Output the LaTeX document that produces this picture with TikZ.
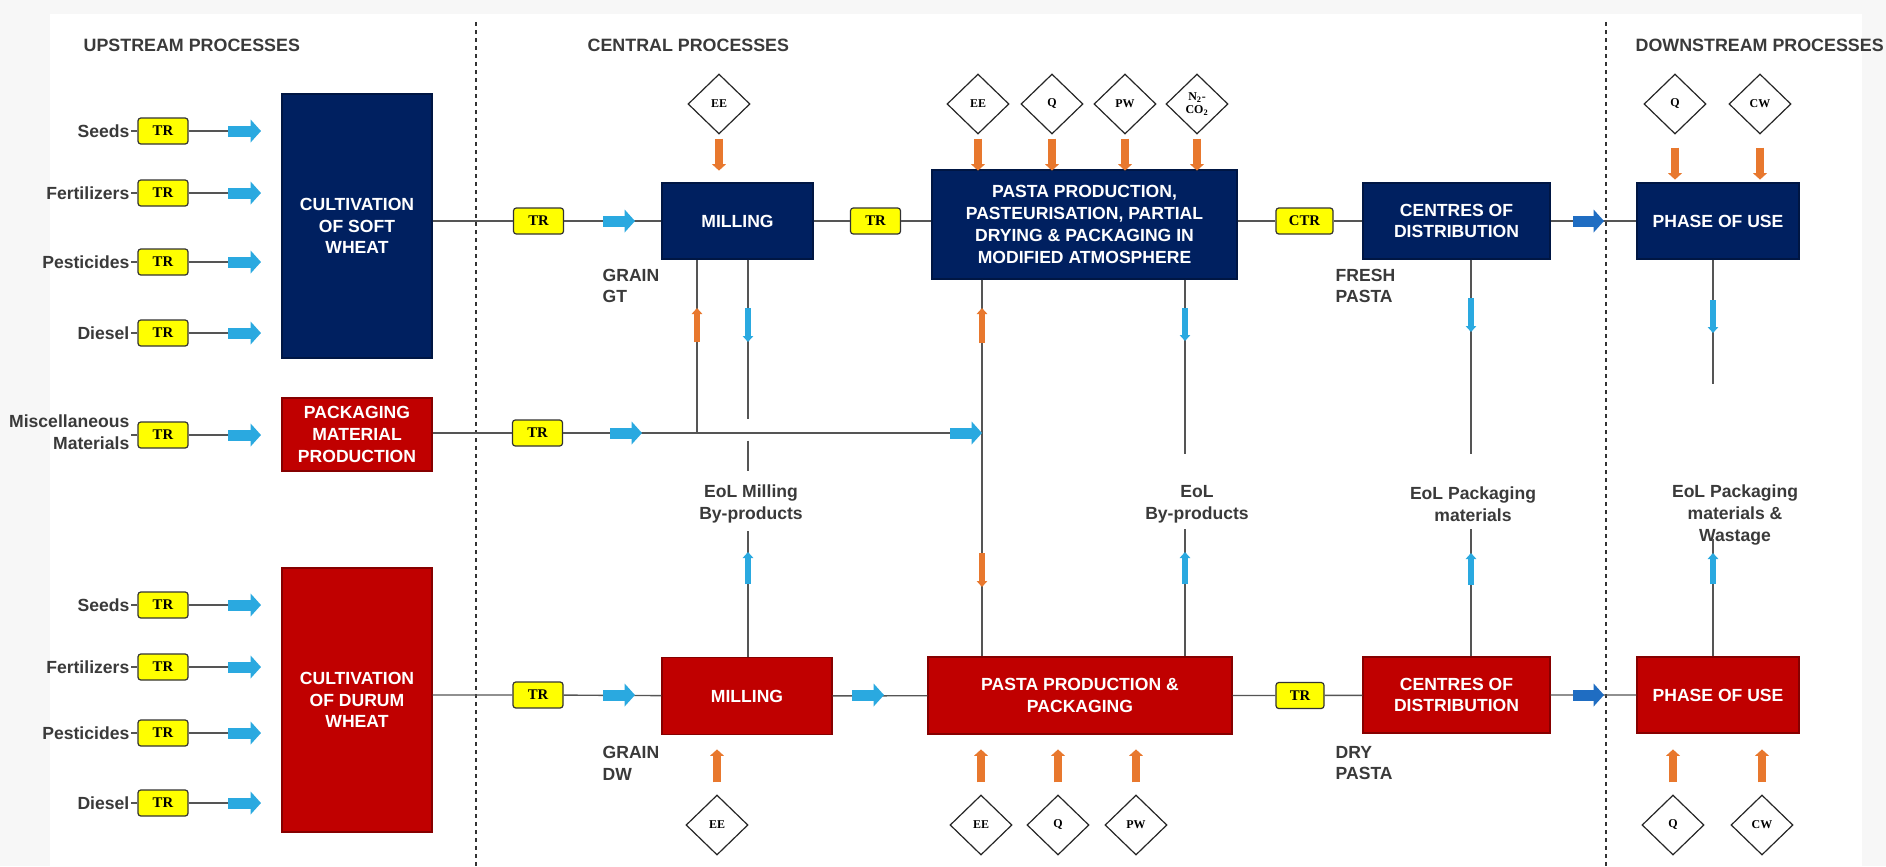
\documentclass[tikz,border=0pt]{standalone}
\usepackage{fontspec}
\setmainfont{Liberation Sans}
\newfontfamily\trfont{Liberation Serif}
\usetikzlibrary{shapes.geometric,arrows.meta}

\definecolor{navybox}{HTML}{002060}
\definecolor{redbox}{HTML}{C00000}
\definecolor{trfill}{HTML}{FFFF00}
\definecolor{flowblue}{HTML}{2AA9E0}
\definecolor{darkflow}{HTML}{1F6DC2}
\definecolor{inorange}{HTML}{E8782E}
\definecolor{txtgray}{HTML}{3A3A3A}
\definecolor{linegray}{HTML}{555555}

\begin{document}
\begin{tikzpicture}[
  x=0.25mm, y=-0.25mm,
  every node/.style={font=\fontsize{12.5}{15.5}\selectfont\bfseries},
  proc/.style={fill=#1, draw=#1!70!black, line width=0.3mm, text=white, align=center, inner sep=2pt},
  blueproc/.style={proc=navybox},
  redproc/.style={proc=redbox},
  tr/.style={draw=black!80, fill=trfill, rounded corners=2pt, line width=0.3mm,
    minimum width=12.5mm, minimum height=6.5mm, inner sep=0pt,
    font=\trfont\fontsize{10.5}{12}\selectfont\bfseries},
  flow/.style={diamond, draw=black!85, fill=white, line width=0.3mm, align=center,
    minimum width=15.5mm, minimum height=15mm, inner sep=0pt,
    font=\trfont\fontsize{8.5}{9}\selectfont\bfseries},
  lbl/.style={text=txtgray, align=center, inner sep=1pt},
  head/.style={lbl, anchor=west, font=\fontsize{12.7}{15}\selectfont\bfseries},
  conn/.style={draw=linegray, line width=0.35mm},
  sep/.style={draw=black!80, line width=0.5mm, dash pattern=on 1.1mm off 0.9mm},
  hblue/.style={draw=#1, line width=2.75mm, -{Triangle[length=2.6mm, width=5.6mm]}},
  hblue/.default=flowblue,
  feed/.style={draw=inorange, line width=2mm, -{Triangle[length=1.6mm, width=3.4mm]}},
  vsmall/.style={draw=#1, line width=1.4mm, -{Triangle[length=1.5mm, width=2.6mm]}},
]
  \useasboundingbox (0,0) rectangle (1886,866);
  \fill[black!3] (0,0) rectangle (1886,866);
  \fill[white] (50,14) rectangle (1862,866);

  \node[head] (hup) at (82,45) {UPSTREAM PROCESSES};
  \node[head] (hcen) at (586,45) {CENTRAL PROCESSES};
  \node[head] (hdown) at (1634,45) {DOWNSTREAM PROCESSES};
  \draw[sep] (476,22) -- (476,866);
  \draw[sep] (1606,22) -- (1606,866);

  % upstream
  \node[blueproc, minimum width=37.5mm, minimum height=66mm] (soft) at (357,226) {CULTIVATION\\OF SOFT\\WHEAT};
  \node[redproc, minimum width=37.5mm, minimum height=18.25mm] (pack) at (357,434.5) {PACKAGING\\MATERIAL\\PRODUCTION};
  \node[redproc, minimum width=37.5mm, minimum height=66mm] (durum) at (357,700) {CULTIVATION\\OF DURUM\\WHEAT};

  \foreach \n/\lab/\y in {s1/Seeds/131, s2/Fertilizers/193, s3/Pesticides/262, s4/Diesel/333,
      d1/Seeds/605, d2/Fertilizers/667, d3/Pesticides/733, d4/Diesel/803}{
    \node[tr] (tr\n) at (163,\y) {TR};
    \node[lbl, anchor=east] (in\n) at (131,\y) {\lab};
    \coordinate (ar\n) at (228,\y);
    \draw[conn] (in\n) -- (tr\n) -- (ar\n);
    \draw[hblue] (ar\n) -- ++(33,0);
  }
  \node[tr] (trQ) at (163,435) {TR};
  \node[lbl, anchor=east, align=right] (inQ) at (131,432) {Miscellaneous\\Materials};
  \coordinate (arQ) at (228,435);
  \draw[conn] (inQ.east |- trQ) -- (trQ) -- (arQ);
  \draw[hblue] (arQ) -- ++(33,0);

  % central, top row
  \node[tr] (trA) at (538.5,221) {TR};
  \node[blueproc, minimum width=37.75mm, minimum height=19mm] (millA) at (737.5,221) {MILLING};
  \node[tr] (trM) at (875.5,221) {TR};
  \node[blueproc, minimum width=76.25mm, minimum height=27.25mm] (pastaF) at (1084.5,224.5)
    {PASTA PRODUCTION,\\PASTEURISATION, PARTIAL\\DRYING \& PACKAGING IN\\MODIFIED ATMOSPHERE};
  \node[tr, minimum width=14.25mm] (ctr) at (1304.5,221) {CTR};
  \node[blueproc, minimum width=46.75mm, minimum height=19mm] (centF) at (1456.5,221) {CENTRES OF\\DISTRIBUTION};
  \node[blueproc, minimum width=40.5mm, minimum height=19mm] (useF) at (1718,221) {PHASE OF USE};
  \node[lbl, anchor=west, align=left] (grainGT) at (601,286) {GRAIN\\GT};
  \node[lbl, anchor=west, align=left] (fresh) at (1334,286) {FRESH\\PASTA};

  % central, bottom row
  \node[tr] (trB) at (538,695) {TR};
  \node[redproc, minimum width=42.5mm, minimum height=19.25mm] (millB) at (747,696) {MILLING};
  \node[redproc, minimum width=76mm, minimum height=19.25mm] (pastaB) at (1080,695.5) {PASTA PRODUCTION \&\\PACKAGING};
  \node[tr, minimum width=12mm] (trD) at (1300,695.5) {TR};
  \node[redproc, minimum width=46.75mm, minimum height=19mm] (centB) at (1456.5,695) {CENTRES OF\\DISTRIBUTION};
  \node[redproc, minimum width=40.5mm, minimum height=19mm] (useB) at (1718,695) {PHASE OF USE};
  \node[lbl, anchor=west, align=left] (grainDW) at (601,763) {GRAIN\\DW};
  \node[lbl, anchor=west, align=left] (dry) at (1334,763) {DRY\\PASTA};

  \node[tr] (trP) at (537.5,433) {TR};

  % end of life labels
  \node[lbl] (eolMill) at (751,504) {EoL Milling\\By-products};
  \node[lbl] (eolBy) at (1197,504) {EoL\\By-products};
  \node[lbl] (eolPack) at (1473,504) {EoL Packaging\\materials};
  \node[lbl] (eolUse) at (1735,515) {EoL Packaging\\materials \&\\Wastage};

  \coordinate (xa) at (697,433);
  \coordinate (xb) at (748,0);
  \coordinate (xc) at (982,433);
  \coordinate (xd) at (1185,0);
  \coordinate (xe) at (1471,0);
  \coordinate (xf) at (1713,0);

  % connectors
  \draw[conn] (soft.east |- trA) -- (trA) -- (millA) -- (trM) -- (trM -| pastaF.west);
  \draw[conn] (pastaF.east |- ctr) -- (ctr) -- (centF) -- (useF);
  \draw[conn] (durum.east |- trB) -- (trB) -- (millB) -- (pastaB);
  \draw[conn] (pastaB.east |- trD) -- (trD) -- (centB) -- (useB);
  \draw[conn] (pack.east |- trP) -- (trP) -- (xc);
  \draw[conn] (xa) -- (xa |- millA.south);
  \draw[conn] (xc |- pastaF.south) -- (xc |- pastaB.north);
  \draw[conn] (millA.south -| xb) -- ++(0,159) ++(0,22) -- ++(0,30);
  \draw[conn] (millB.north -| xb) -- ++(0,-126);
  \draw[conn] (pastaF.south -| xd) -- ++(0,174);
  \draw[conn] (pastaB.north -| xd) -- ++(0,-127);
  \draw[conn] (centF.south -| xe) -- ++(0,194);
  \draw[conn] (centB.north -| xe) -- ++(0,-127);
  \draw[conn] (useF.south -| xf) -- ++(0,124);
  \draw[conn] (useB.north -| xf) -- ++(0,-117);

  % flow arrows
  \foreach \x/\y in {603/221, 610/433, 950/433, 603/695, 852/695}
    \draw[hblue] (\x,\y) -- ++(32,0);
  \foreach \y in {221, 695}
    \draw[hblue=darkflow] (1573,\y) -- ++(31,0);
  \foreach \x/\a/\b/\c in {697/342/308/inorange, 748/308/342/flowblue, 748/584/552/flowblue,
      982/343/308/inorange, 982/553/587/inorange, 1185/308/341/flowblue, 1185/584/552/flowblue,
      1471/298/332/flowblue, 1471/585/553/flowblue, 1713/300/333/flowblue, 1713/584/553/flowblue}
    \draw[vsmall=\c] (\x,\a) -- (\x,\b);

  % inputs
  \foreach \n/\x/\t/\g in {tm/719/EE/4, te/978/EE/4, tq/1052/Q/4, tp/1125/PW/4, tu/1675/Q/13, tw/1760/CW/13}{
    \node[flow] (\n) at (\x,104) {\t};
    \draw[feed] (\n.south) ++(0,\g) -- ++(0,32);
  }
  \node[flow] (tn) at (1197,104) {N\textsubscript{2}-\\CO\textsubscript{2}};
  \draw[feed] (tn.south) ++(0,4) -- ++(0,32);
  \foreach \n/\x/\t in {bm/717/EE, be/981/EE, bq/1058/Q, bp/1136/PW, bu/1673/Q, bw/1762/CW}{
    \node[flow] (\n) at (\x,825) {\t};
    \draw[feed] (\n.north) ++(0,-12) -- ++(0,-33);
  }
\end{tikzpicture}
\end{document}
